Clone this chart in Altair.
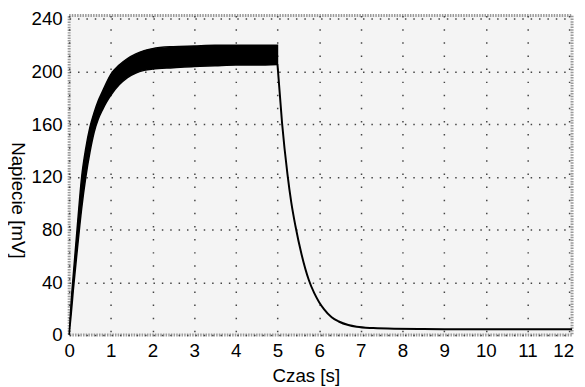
import altair as alt
import pandas as pd

# Ripple envelope during charging (time in s, voltage in mV)
band_t = [0, 0.05, 0.1, 0.2, 0.3, 0.4, 0.5, 0.6, 0.7, 0.8, 0.9, 1.0, 1.2, 1.4,
          1.6, 1.8, 2.0, 2.5, 3.0, 3.5, 4.0, 4.5, 5.0]
band_upper = [0, 26, 46, 84, 120, 142, 158, 169, 178, 185, 192, 198, 205, 210,
              213.5, 216, 217.5, 219, 219.5, 220, 220, 220, 220]
band_lower = [0, 16, 34, 66, 96, 120, 139, 154, 164, 171, 177, 182, 190, 195.5,
              199, 201, 202, 203, 204, 204.5, 205, 205, 205.5]

# Discharge curve after the source is switched off
decay_t = [5.0, 5.11, 5.24, 5.33, 5.43, 5.58, 5.75, 5.88, 6.0, 6.12, 6.3,
           6.47, 6.7, 6.9, 7.3, 7.8, 8.5, 9, 10, 11, 12.07]
decay_v = [205.5, 161, 122, 101, 83, 61, 42, 32, 25, 19.5, 13.5, 10.3, 7.6,
           6.3, 5.3, 4.8, 4.6, 4.5, 4.5, 4.5, 4.5]

x_ticks = list(range(0, 13))
y_ticks = [0, 40, 80, 120, 160, 200, 240]

band_df = pd.DataFrame({"t": band_t, "hi": band_upper, "lo": band_lower})
decay_df = pd.DataFrame({"t": decay_t, "v": decay_v})

FONT = "Liberation Sans"

x_scale = alt.Scale(domain=[0, 12.07], nice=False, zero=False)
y_scale = alt.Scale(domain=[0, 242.6], nice=False, zero=False)

x_axis = alt.Axis(
    title="Czas [s]", values=x_ticks, format="d", labelFlush=False,
    labelOverlap=False, grid=True, gridDash=[1.5, 11.8], gridColor="#444444",
    gridWidth=1.5, domain=False, ticks=False, labelPadding=7,
    labelOffset={"condition": {"test": "datum.value == 12", "value": -6},
                 "value": 0},
    titleX=240, titleY=41, titleBaseline="middle", titleAlign="center",
)
y_axis = alt.Axis(
    title="Napiecie [mV]", values=y_ticks, format="d", labelOverlap=False,
    grid=True, gridDash=[1.5, 7], gridColor="#444444", gridWidth=1.5,
    domain=False, ticks=False, labelPadding=7,
    titleAngle=90, titleX=-52, titleY=187, titleAlign="center",
    titleBaseline="middle",
)

band = alt.Chart(band_df).mark_area(
    color="black", stroke="black", strokeWidth=1.5, interpolate="monotone"
).encode(
    x=alt.X("t:Q", scale=x_scale, axis=x_axis),
    y=alt.Y("hi:Q", scale=y_scale, axis=y_axis),
    y2="lo:Q",
)

decay = alt.Chart(decay_df).mark_line(
    color="black", strokeWidth=2, interpolate="monotone"
).encode(
    x=alt.X("t:Q", scale=x_scale),
    y=alt.Y("v:Q", scale=y_scale),
)

chart = alt.layer(band, decay).properties(
    width=510, height=324,
    autosize=alt.AutoSizeParams(type="none"),
    padding={"left": 62, "top": 5, "right": 5, "bottom": 50},
    background="white",
).configure_view(
    fill="#f4f4f4", stroke="#9a9a9a", strokeWidth=3, strokeDash=[1.5, 1.2],
).configure_axis(
    labelFont=FONT, titleFont=FONT, labelFontSize=19, titleFontSize=19,
    labelColor="black", titleColor="black", titleFontWeight="normal",
)

chart.save("out.html", embed_options={"renderer": "svg", "actions": False})
